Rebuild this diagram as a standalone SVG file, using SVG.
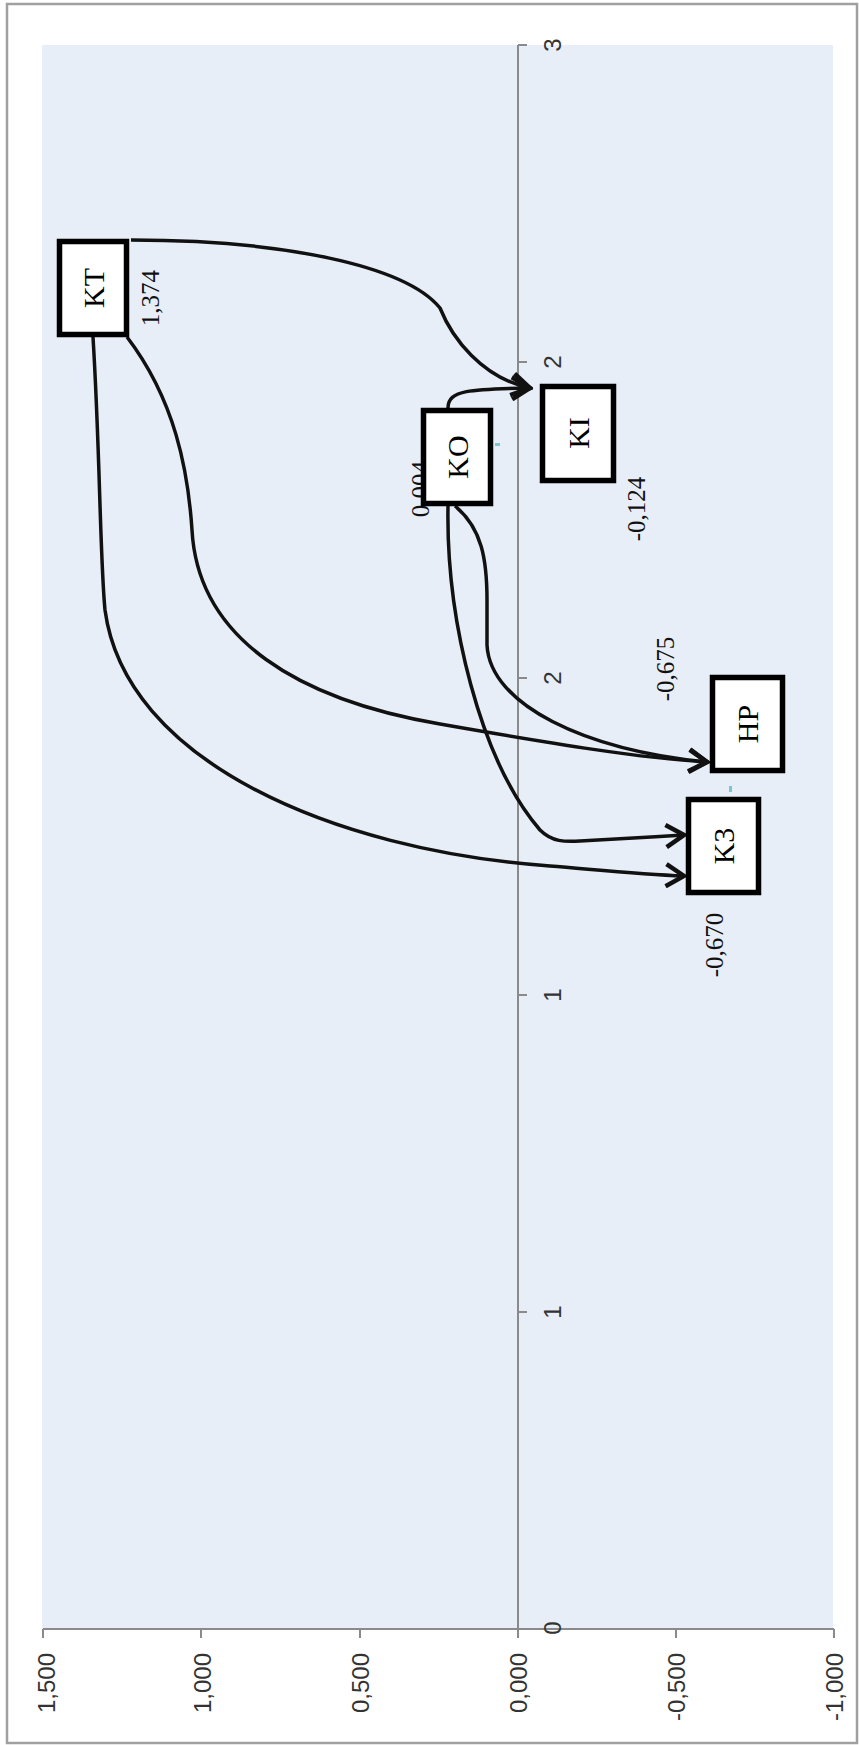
<svg xmlns="http://www.w3.org/2000/svg" width="859" height="1745" viewBox="0 0 859 1745">
  <defs>
    <style>
      .frame { fill: #ffffff; stroke: #a0a0a0; stroke-width: 2.5; }
      .plot { fill: #e7eef8; }
      .axis { stroke: #8a8a8a; stroke-width: 2; fill: none; }
      .tick { font-family: "Liberation Sans", Arial, sans-serif; font-size: 24px; fill: #333333; }
      .node rect { fill: #ffffff; stroke: #000000; stroke-width: 5.5; }
      .node text { font-family: "Liberation Serif", "Times New Roman", serif; font-size: 30px; fill: #000000; text-anchor: middle; dominant-baseline: central; }
      .val { font-family: "Liberation Serif", "Times New Roman", serif; font-size: 25px; fill: #111111; text-anchor: middle; dominant-baseline: central; }
      .edge { fill: none; stroke: #111111; stroke-width: 3.5; marker-end: url(#arrow); }
      .mark { fill: #7cc6cf; }
    </style>
    <marker id="arrow" markerUnits="userSpaceOnUse" viewBox="0 0 24 26" refX="21" refY="13" markerWidth="24" markerHeight="26" orient="auto">
      <path d="M3,2 L21,13 L3,24" fill="none" stroke="#111111" stroke-width="4.5" stroke-linejoin="miter"/>
    </marker>
  </defs>

  <!-- chart frame and plot area -->
  <rect class="frame" x="7" y="4" width="850" height="1739"/>
  <rect class="plot" x="42" y="45" width="791" height="1584"/>

  <!-- axes -->
  <g id="axes">
    <line class="axis" x1="518" y1="45" x2="518" y2="1629"/>
    <line class="axis" x1="43" y1="1629" x2="834" y2="1629"/>
    <!-- ticks on the vertical axis -->
    <path class="axis" d="M518,45 H527 M518,362 H527 M518,678 H527 M518,995 H527 M518,1312 H527"/>
    <!-- ticks on the horizontal axis -->
    <path class="axis" d="M43,1629 V1638 M201,1629 V1638 M360,1629 V1638 M518,1629 V1638 M676,1629 V1638 M834,1629 V1638"/>
    <g class="tick" text-anchor="middle" dominant-baseline="central">
      <text transform="translate(552,45) rotate(-90)">3</text>
      <text transform="translate(552,362) rotate(-90)">2</text>
      <text transform="translate(552,678) rotate(-90)">2</text>
      <text transform="translate(552,995) rotate(-90)">1</text>
      <text transform="translate(552,1312) rotate(-90)">1</text>
      <text transform="translate(552,1628) rotate(-90)">0</text>
    </g>
    <g class="tick" text-anchor="end" dominant-baseline="central">
      <text transform="translate(46,1653) rotate(-90)">1,500</text>
      <text transform="translate(202,1653) rotate(-90)">1,000</text>
      <text transform="translate(360,1653) rotate(-90)">0,500</text>
      <text transform="translate(518,1653) rotate(-90)">0,000</text>
      <text transform="translate(676,1653) rotate(-90)">-0,500</text>
      <text transform="translate(834,1653) rotate(-90)">-1,000</text>
    </g>
  </g>

  <!-- data point markers -->
  <rect class="mark" x="495" y="443" width="5" height="3"/>
  <rect class="mark" x="729" y="786" width="3" height="6"/>

  <!-- value labels -->
  <g id="values">
    <text class="val" transform="translate(150,298) rotate(-90)">1,374</text>
    <text class="val" transform="translate(420,489) rotate(-90)">0,004</text>
    <text class="val" transform="translate(636,509) rotate(-90)">-0,124</text>
    <text class="val" transform="translate(665,669) rotate(-90)">-0,675</text>
    <text class="val" transform="translate(714,945) rotate(-90)">-0,670</text>
  </g>

  <!-- connectors -->
  <g id="connectors">
    <path id="e-kt-ki" class="edge" d="M131,240 C280,240 405,265 440,308 C452,338 482,378 530,388"/>
    <path id="e-ko-ki" class="edge" d="M448,408 C448,390 470,389 530,388"/>
    <path id="e-kt-hp" class="edge" d="M127,337 C175,400 188,470 192,530 C198,640 300,700 440,724 C560,745 640,758 707,762"/>
    <path id="e-kt-k3" class="edge" d="M93,337 C100,450 100,560 105,610 C125,760 330,850 550,866 C600,870 640,874 684,876"/>
    <path id="e-ko-hp" class="edge" d="M455,506 C482,528 487,560 487,600 L487,645 C490,705 585,750 707,762"/>
    <path id="e-ko-k3" class="edge" d="M448,506 C446,620 480,760 540,830 C552,842 565,842 580,841 C620,839 650,837 684,835"/>
  </g>

  <!-- nodes -->
  <g id="node-kt" class="node">
    <rect x="59.5" y="241.5" width="67" height="93"/>
    <text transform="translate(93,288) rotate(-90)">KT</text>
  </g>
  <g id="node-ko" class="node">
    <rect x="423.5" y="410.5" width="67" height="93"/>
    <text transform="translate(457,457) rotate(-90)">KO</text>
  </g>
  <g id="node-ki" class="node">
    <rect x="542.5" y="386.5" width="71" height="94"/>
    <text transform="translate(578,433) rotate(-90)">KI</text>
  </g>
  <g id="node-hp" class="node">
    <rect x="712.5" y="677.5" width="70" height="93"/>
    <text transform="translate(747,724) rotate(-90)">HP</text>
  </g>
  <g id="node-k3" class="node">
    <rect x="688.5" y="799.5" width="70" height="93"/>
    <text transform="translate(723,846) rotate(-90)">K3</text>
  </g>
</svg>
